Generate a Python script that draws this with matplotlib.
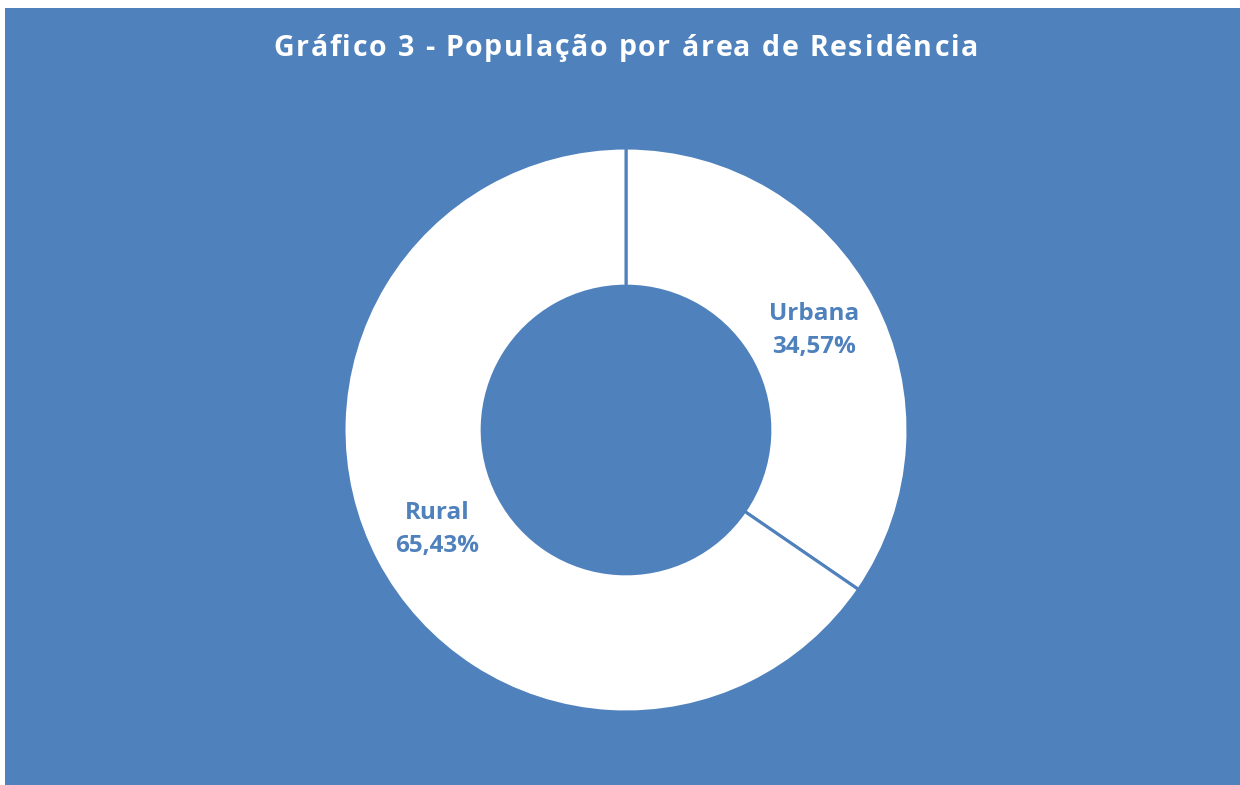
import matplotlib
matplotlib.use('Agg')
import matplotlib.pyplot as plt
from matplotlib.patches import Rectangle

AZUL = '#4F81BD'

categorias = ['Urbana', 'Rural']
percentagens = [34.57, 65.43]
titulo = 'Gráfico 3 - População por área de Residência'

LARG, ALT = 1240, 785
fig = plt.figure(figsize=(LARG / 100, ALT / 100), dpi=100, facecolor='white')

# fundo azul do gráfico (deixa uma pequena margem branca em cima e à esquerda)
fig.patches.append(Rectangle((5 / LARG, -0.01), 1.0, 1.01 - 8 / ALT,
                             transform=fig.transFigure, facecolor=AZUL,
                             edgecolor='none', zorder=-5))

# anel: centro em (626, 430) px, raio exterior 282 px
cx, cy, r = 626, ALT - 430, 282
ax = fig.add_axes([(cx - r) / LARG, (cy - r) / ALT, 2 * r / LARG, 2 * r / ALT])

fatias, _, textos = ax.pie(
    percentagens,
    startangle=90,
    counterclock=False,
    colors=['white', 'white'],
    autopct='%.2f',
    pctdistance=0.755,
    radius=1,
    wedgeprops=dict(width=0.49, edgecolor=AZUL, linewidth=2.2),
)
ax.set_xlim(-1, 1)
ax.set_ylim(-1, 1)
ax.axis('off')
for fatia in fatias:
    fatia.set_clip_on(False)

for texto, cat, val in zip(textos, categorias, percentagens):
    texto.set_text(f'{cat}\n{val:.2f}%'.replace('.', ','))
    texto.set_color(AZUL)
    texto.set_fontsize(17.5)
    texto.set_fontweight('bold')
    texto.set_family('Open Sans')
    texto.set_linespacing(1.5)

# título com espaçamento entre letras: cada letra é colocada à parte
fonte = dict(color='white', fontsize=20.5, fontweight='bold', family='Open Sans',
             va='center', ha='left')
renderer = fig.canvas.get_renderer()


def largura(s):
    t = fig.text(0, 0, s + 'x', **fonte)
    w = t.get_window_extent(renderer).width
    t.remove()
    t = fig.text(0, 0, 'x', **fonte)
    w -= t.get_window_extent(renderer).width
    t.remove()
    return w


larg_alvo = 705
larg_txt = largura(titulo)
passo = (larg_alvo - larg_txt) / (len(titulo) - 1)
x0 = cx - larg_alvo / 2
y_tit = 1 - 48 / ALT
for i, letra in enumerate(titulo):
    x = x0 + largura(titulo[:i]) + i * passo
    fig.text(x / LARG, y_tit, letra, **fonte)

fig.savefig('out.png', dpi=100, facecolor='white')
